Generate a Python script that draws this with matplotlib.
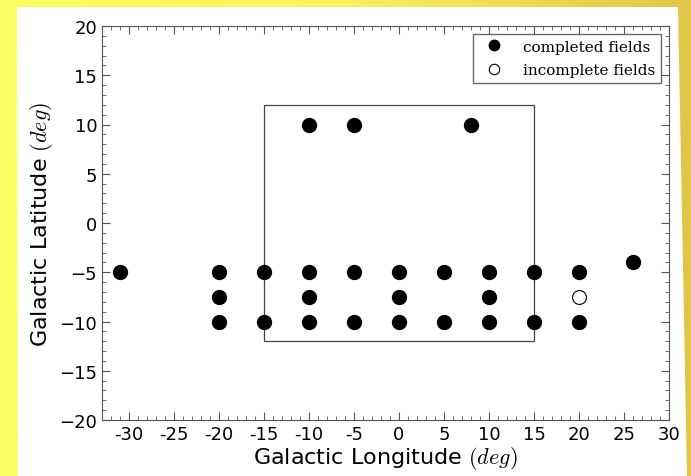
import numpy as np
import matplotlib
matplotlib.use("Agg")
import matplotlib.pyplot as plt
from matplotlib.patches import Rectangle, Polygon
from matplotlib.ticker import MultipleLocator
from matplotlib.colors import LinearSegmentedColormap

plt.rcParams["mathtext.fontset"] = "cm"

# observed fields (galactic longitude, latitude) in degrees
done_l = [-31, -20, -20, -20, -15, -15, -10, -10, -10, -10, -5, -5, -5,
          0, 0, 0, 5, 5, 8, 10, 10, 10, 15, 15, 20, 20, 26]
done_b = [-5, -5, -7.5, -10, -5, -10, 10, -5, -7.5, -10, 10, -5, -10,
          -5, -7.5, -10, -5, -10, 10, -5, -7.5, -10, -5, -10, -5, -10, -4]
todo_l = [20]
todo_b = [-7.5]

# survey box
box_l = [-15, 15]
box_b = [-12, 12]

xticks = [-30, -25, -20, -15, -10, -5, 0, 5, 10, 15, 20, 25, 30]
xticklabels = ["-30", "-25", "-20", "-15", "-10", "-5", "0", "5", "10", "15", "20", "25", "30"]
yticks = [-20, -15, -10, -5, 0, 5, 10, 15, 20]

fig = plt.figure(figsize=(6.91, 4.77), dpi=100)

# yellow slide background with white panel
bg = fig.add_axes([0, 0, 1, 1])
grad = np.linspace(0, 1, 256)[None, :]
cmap = LinearSegmentedColormap.from_list("y", ["#fefe66", "#faf060", "#e0c648"])
bg.imshow(grad, aspect="auto", cmap=cmap, extent=[0, 691, 0, 477])
bg.add_patch(Polygon([[17, 477 - 8], [678, 477 - 8], [687, 0], [18, 0]],
                     closed=True, facecolor="white", edgecolor="none"))
bg.set_xlim(0, 691)
bg.set_ylim(0, 477)
bg.axis("off")

ax = fig.add_axes([102 / 691, 56 / 477, 567 / 691, 394 / 477])
ax.plot(done_l, done_b, "o", color="black", markersize=10, label="completed fields")
ax.plot(todo_l, todo_b, "o", markerfacecolor="white", markeredgecolor="black",
        markersize=10, markeredgewidth=0.8, label="incomplete fields")
ax.add_patch(Rectangle((box_l[0], box_b[0]), box_l[1] - box_l[0], box_b[1] - box_b[0],
                       fill=False, edgecolor="#444444", linewidth=0.9))

ax.set_xlim(-33, 30)
ax.set_ylim(-20, 20)
ax.set_xticks(xticks)
ax.set_xticklabels(xticklabels)
ax.set_yticks(yticks)
ax.xaxis.set_minor_locator(MultipleLocator(1))
ax.yaxis.set_minor_locator(MultipleLocator(1))
ax.tick_params(which="both", direction="in", top=True, right=True, color="#555555")
ax.tick_params(which="major", length=6, labelsize=13)
ax.tick_params(which="minor", length=3)
for s in ax.spines.values():
    s.set_color("#555555")

ax.set_xlabel("Galactic Longitude $(deg)$", fontsize=16, labelpad=1)
ax.set_ylabel("Galactic Latitude $(deg)$", fontsize=16, labelpad=3)

leg = ax.legend(loc="upper right", numpoints=1, fancybox=False, markerscale=0.75,
                prop={"family": "DejaVu Serif", "size": 11}, labelspacing=0.6,
                borderaxespad=0.5, handletextpad=0.9)
leg.get_frame().set_edgecolor("#444444")

fig.savefig("out.png", dpi=100)
